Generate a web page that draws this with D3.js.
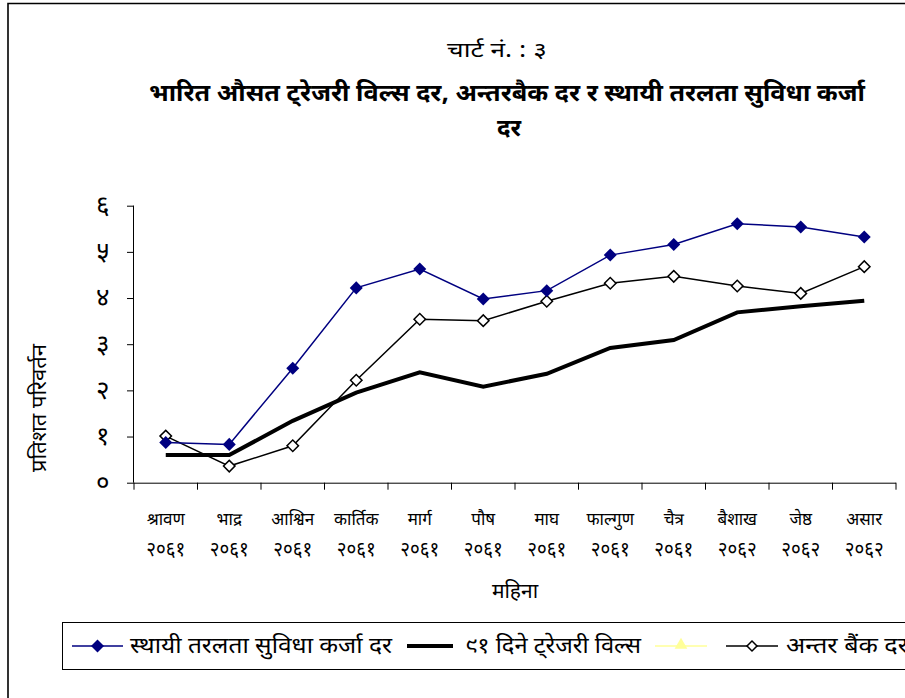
<!DOCTYPE html>
<html lang="ne">
<head>
  <meta charset="UTF-8" />
  <title>चार्ट नं. ३</title>
  <script src="https://cdn.jsdelivr.net/npm/d3@7"></script>
  <style>
    html, body { margin: 0; padding: 0; background: #fff; }
    svg { display: block; font-family: "Noto Sans Devanagari", "Lohit Devanagari", "Noto Sans", sans-serif; }
  </style>
</head>
<body>
<div id="chart"></div>
<script>
// महिना र वर्ष
const months = ["श्रावण", "भाद्र", "आश्विन", "कार्तिक", "मार्ग", "पौष", "माघ", "फाल्गुण", "चैत्र", "बैशाख", "जेष्ठ", "असार"];
const years = ["२०६१", "२०६१", "२०६१", "२०६१", "२०६१", "२०६१", "२०६१", "२०६१", "२०६१", "२०६२", "२०६२", "२०६२"];
const yTickLabels = ["०", "१", "२", "३", "४", "५", "६"];

// श्रृंखला
const slfRate = [0.87, 0.83, 2.48, 4.22, 4.63, 3.98, 4.16, 4.93, 5.16, 5.61, 5.54, 5.32];
const tbillRate = [0.60, 0.60, 1.34, 1.95, 2.39, 2.08, 2.36, 2.92, 3.09, 3.69, 3.82, 3.94];
const interbankRate = [1.01, 0.36, 0.80, 2.22, 3.54, 3.51, 3.93, 4.32, 4.47, 4.26, 4.10, 4.68];

const W = 905, H = 698;
const svg = d3.select("#chart").append("svg")
  .attr("width", W).attr("height", H);

// बाहिरी फ्रेम
svg.append("path")
  .attr("d", `M8,${H + 5} L8,3.5 L${W + 5},3.5`)
  .attr("fill", "none").attr("stroke", "#000").attr("stroke-width", 1.6);

// शीर्षक
svg.append("text")
  .attr("x", 497).attr("y", 57)
  .attr("text-anchor", "middle")
  .attr("font-size", 21)
  .attr("textLength", 100).attr("lengthAdjust", "spacingAndGlyphs")
  .text("चार्ट नं. : ३");
svg.append("text")
  .attr("x", 507).attr("y", 101)
  .attr("text-anchor", "middle")
  .attr("font-size", 24).attr("font-weight", "bold")
  .attr("textLength", 716).attr("lengthAdjust", "spacingAndGlyphs")
  .text("भारित औसत ट्रेजरी विल्स दर, अन्तरबैक दर र स्थायी तरलता सुविधा कर्जा");
svg.append("text")
  .attr("x", 509).attr("y", 136)
  .attr("text-anchor", "middle")
  .attr("font-size", 24).attr("font-weight", "bold")
  .text("दर");

// स्केल
const x = d3.scaleBand().domain(months).range([134, 896]);
const y = d3.scaleLinear().domain([0, 6]).range([482.7, 205.7]);

// y अक्ष
const yAxis = svg.append("g")
  .attr("transform", "translate(134,0)")
  .call(d3.axisLeft(y).ticks(6).tickSize(7).tickFormat((d, i) => yTickLabels[i]));
yAxis.select(".domain").attr("stroke", "#000").attr("d", `M-0.5,${y(0)}V${y(6)}`);
yAxis.selectAll(".tick line").attr("stroke", "#000");
yAxis.selectAll(".tick text")
  .attr("x", -31).attr("dy", "0.3em").attr("text-anchor", "middle")
  .attr("font-size", 26).attr("fill", "#000")
  .attr("font-family", "inherit");

// x अक्ष
const xAxis = svg.append("g")
  .attr("transform", `translate(0,${y(0)})`)
  .call(d3.axisBottom(x).tickSize(0).tickFormat(""));
xAxis.select(".domain").attr("stroke", "#000").attr("d", `M134,0.5H896`);
xAxis.selectAll(".tick line").remove();
// बिभाजक टिक
const bounds = months.map(m => x(m)).concat([x(months[months.length - 1]) + x.bandwidth()]);
xAxis.selectAll(".sep").data(bounds).enter().append("line")
  .attr("x1", d => d).attr("x2", d => d)
  .attr("y1", 0).attr("y2", 7)
  .attr("stroke", "#000");

const labels = svg.append("g").attr("text-anchor", "middle");
months.forEach((m, i) => {
  const cx = x(m) + x.bandwidth() / 2;
  labels.append("text").attr("x", cx).attr("y", 525).attr("font-size", 17).text(m);
  labels.append("text").attr("x", cx).attr("y", 556).attr("font-size", 21)
    .attr("textLength", 39).attr("lengthAdjust", "spacingAndGlyphs").text(years[i]);
});

// अक्ष शीर्षक
svg.append("text")
  .attr("x", 515).attr("y", 598)
  .attr("text-anchor", "middle").attr("font-size", 21)
  .text("महिना");
svg.append("text")
  .attr("transform", "translate(46,408) rotate(-90)")
  .attr("text-anchor", "middle").attr("font-size", 21)
  .attr("textLength", 128).attr("lengthAdjust", "spacingAndGlyphs")
  .text("प्रतिशत परिवर्तन");

// रेखाहरू
const cx = (d, i) => x(months[i]) + x.bandwidth() / 2;
const line = d3.line().x(cx).y(d => y(d));
const square = d3.symbol().type(d3.symbolSquare);

svg.append("path").datum(tbillRate)
  .attr("d", line).attr("fill", "none")
  .attr("stroke", "#000").attr("stroke-width", 4);

svg.append("path").datum(interbankRate)
  .attr("d", line).attr("fill", "none")
  .attr("stroke", "#000").attr("stroke-width", 1.5);
svg.selectAll(".ib").data(interbankRate).enter().append("path")
  .attr("transform", (d, i) => `translate(${cx(d, i)},${y(d)}) rotate(45)`)
  .attr("d", square.size(66))
  .attr("fill", "#fff").attr("stroke", "#000").attr("stroke-width", 1.5);

svg.append("path").datum(slfRate)
  .attr("d", line).attr("fill", "none")
  .attr("stroke", "#000080").attr("stroke-width", 1.5);
svg.selectAll(".slf").data(slfRate).enter().append("path")
  .attr("transform", (d, i) => `translate(${cx(d, i)},${y(d)}) rotate(45)`)
  .attr("d", square.size(85))
  .attr("fill", "#000080");

// लेजेन्ड
const lg = svg.append("g");
lg.append("rect")
  .attr("x", 62.5).attr("y", 622.5).attr("width", 900).attr("height", 47)
  .attr("fill", "#fff").attr("stroke", "#000").attr("stroke-width", 1);
const ly = 646;
const legendItems = [
  { x1: 72, x2: 123, text: "स्थायी तरलता सुविधा कर्जा दर", tx: 130, len: 262, color: "#000080", w: 1.5, marker: "fill" },
  { x1: 407, x2: 453, text: "९१ दिने ट्रेजरी विल्स", tx: 465, len: 176, color: "#000", w: 4, marker: null },
  { x1: 655, x2: 707, text: "", tx: 712, len: 0, color: "#ffff99", w: 1.5, marker: "tri" },
  { x1: 726, x2: 778, text: "अन्तर बैंक दर", tx: 786, len: 122, color: "#000", w: 1.5, marker: "open" }
];
legendItems.forEach(d => {
  lg.append("line").attr("x1", d.x1).attr("x2", d.x2).attr("y1", ly).attr("y2", ly)
    .attr("stroke", d.color).attr("stroke-width", d.w);
  const mx = (d.x1 + d.x2) / 2;
  if (d.marker === "fill") {
    lg.append("path").attr("transform", `translate(${mx},${ly}) rotate(45)`)
      .attr("d", square.size(85)).attr("fill", d.color);
  } else if (d.marker === "open") {
    lg.append("path").attr("transform", `translate(${mx},${ly}) rotate(45)`)
      .attr("d", square.size(50)).attr("fill", "#fff").attr("stroke", "#000").attr("stroke-width", 1.5);
  } else if (d.marker === "tri") {
    lg.append("path").attr("transform", `translate(${mx},${ly - 1})`)
      .attr("d", d3.symbol().type(d3.symbolTriangle).size(70)).attr("fill", d.color);
  }
  if (d.text) {
    lg.append("text").attr("x", d.tx).attr("y", ly + 7)
      .attr("font-size", 22)
      .attr("textLength", d.len).attr("lengthAdjust", "spacingAndGlyphs")
      .text(d.text);
  }
});
</script>
</body>
</html>
